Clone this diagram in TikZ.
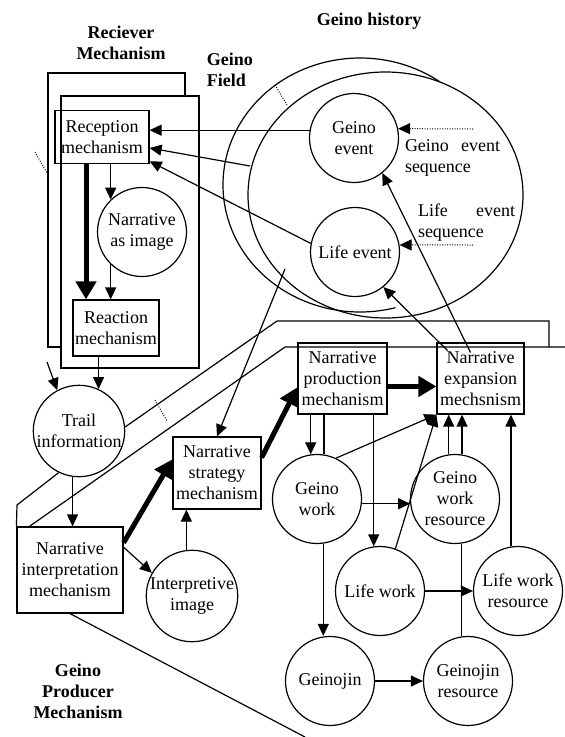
\documentclass[tikz,border=0pt]{standalone}
\usepackage{fontspec}
\setmainfont{Liberation Serif}
\usetikzlibrary{arrows.meta, calc}

\begin{document}
\begin{tikzpicture}[x=1pt, y=-1pt, line width=1.2pt,
    every node/.style={font=\fontsize{18}{21}\selectfont},
    mech/.style={draw, rectangle, align=center, inner sep=1pt},
    item/.style={draw, circle, align=center, inner sep=0pt, minimum size=89pt},
    heading/.style={font=\fontsize{18}{21}\selectfont\bfseries, align=center},
    seqtext/.style={align=left, inner sep=0pt},
    arr/.style={-{Triangle[length=12pt,width=11pt]}},
    bigarr/.style={line width=5pt, -{Triangle[length=18pt,width=20pt]}},
    seqarr/.style={line width=1pt, dash pattern=on 1pt off 1.5pt, -{Triangle[length=12pt,width=11pt]}},
    dottick/.style={line width=0.9pt, dash pattern=on 1pt off 1.5pt}]
    \useasboundingbox (0,0) rectangle (565,737);

    % Headings
    \node[heading] (hrec) at (121,43) {Reciever\\Mechanism};
    \node[heading, align=left, anchor=west] (hfield) at (203,70) {Geino\\Field};
    \node[heading] (hhist) at (369,21) {Geino history};
    \node[heading] (hprod) at (78,691) {Geino\\Producer\\Mechanism};

    % Receiver frames
    \draw (48,73) rectangle (185,347);
    \draw[fill=white] (61,96) rectangle (199,368);

    % Field and history
    \draw (385.5,195) ellipse [x radius=137.5, y radius=123];
    \draw (360,185) ++(-54.3:137 and 127)
        arc [start angle=-54.3, end angle=-285, x radius=137, y radius=127];

    % Receiver mechanism
    \node[mech, minimum width=94pt, minimum height=53pt] (rec) at (102,137) {Reception\\mechanism};
    \node[item] (nai) at (142,232) {Narrative\\as image};
    \node[mech, minimum width=86pt, minimum height=56pt] (react) at (116,328) {Reaction\\mechanism};
    \node[item] (trail) at (79,431) {Trail\\information};

    % Events
    \node[item] (gevent) at (354,138) {Geino\\event};
    \node[item] (levent) at (355,252) {Life event};
    \node[seqtext, text width=95pt] (gseqt) at (452.5,157.5) {Geino\hfill event\\sequence};
    \node[seqtext, text width=97pt] (lseqt) at (466.5,222.5) {Life\hfill event\\sequence};

    % Producer mechanism
    \node[mech, minimum width=106pt, minimum height=86pt] (interp) at (70,570) {Narrative\\interpretation\\mechanism};
    \node[item] (interpimg) at (192,596) {Interpretive\\image};
    \node[mech, minimum width=88pt, minimum height=72pt] (strat) at (217,473) {Narrative\\strategy\\mechanism};
    \node[mech, minimum width=89pt, minimum height=71pt] (prod) at (342.5,378.5) {Narrative\\production\\mechanism};
    \node[mech, minimum width=87pt, minimum height=71pt] (exp) at (480.5,378.5) {Narrative\\expansion\\mechsnism};

    % Works and resources
    \node[item] (gwork) at (317,499) {Geino\\work};
    \node[item] (gwres) at (455,499) {Geino\\work\\resource};
    \node[item] (lwork) at (380,591) {Life work};
    \node[item] (lwres) at (518,591) {Life work\\resource};
    \node[item] (gj) at (330,681) {Geinojin};
    \node[item] (gjres) at (468,681) {Geinojin\\resource};

    % Free ends
    \coordinate (histL) at (250,166);
    \coordinate (histS) at (285,269);
    \coordinate (trailin) at (47,362);
    \coordinate (gseq) at (473,129);
    \coordinate (lseq) at (473,245);

    % Field borders
    \draw (trail.5) -- (277,321) -- (549,321) -- (549,347);
    \draw ([xshift=13pt]interp.north west) -- (285,347) -- (565,347);
    \draw (trail.244) -- (17,505) -- (interp.north west);
    \draw (interp.south) -- (305,737);
    \draw[dottick] (35,152) -- (47,173);
    \draw[dottick] (275,85) -- (287,105);
    \draw[dottick] (155,400) -- (167,421);

    % Reception side
    \draw[arr] (gevent.170) -- (gevent.170 -| rec.east);
    \draw[arr] (histL) -- (rec.-13);
    \draw[arr] (levent.169) -- (rec.-27);
    \draw[arr] (rec.south -| nai.134) -- (nai.134);
    \draw[bigarr] ([xshift=-16pt]rec.south) -- ([xshift=-16pt]rec.south |- react.north);
    \draw[arr] (nai.226) -- (nai.226 |- react.north);
    \draw[arr] (react.south -| trail.65) -- (trail.65);
    \draw[arr] (trailin) -- (trail.118);
    \draw[arr] (trail.262) -- (trail.262 |- interp.north);

    % Production side
    \draw[arr] (interp.23) -- (interpimg.150);
    \draw[bigarr] (interp.27) -- (strat.163);
    \draw[arr] (interpimg.97) -- (interpimg.97 |- strat.south);
    \draw[arr] (histS) -- (strat.north);
    \draw[bigarr] (strat.19) -- (prod.191);
    \draw[bigarr] (prod.-10) -- (prod.-10 -| exp.west);
    \draw[arr] ([shift={(-33,-28)}]exp.center) -- (levent.-51);
    \draw[arr] ([shift={(-10,-26)}]exp.center) -- (gevent.-51);
    \draw[seqarr] (gseq) -- (gevent.12);
    \draw[seqarr] (lseq) -- (levent.9);

    % Works
    \draw[arr] (prod.south -| gwork.98) -- (gwork.98);
    \draw (gwork.81) -- (gwork.81 |- prod.south);
    \draw[arr] (prod.south -| lwork.98) -- (lwork.98);
    \draw[arr] (gwork.65) -- (exp.south west);
    \draw[arr] (lwork.70) -- (exp.south west);
    \draw[arr] (gwork.-6) -- (gwres.186);
    \draw[arr] (gwork.-82) -- (gwork.-82 |- gj.north);
    \draw[arr] (gj.east) -- (gjres.west);
    \draw[arr] (lwork.east) -- (lwres.west);
    \draw[arr] (gwres.98) -- (gwres.98 |- exp.south);
    \draw[arr] (gwres.81) -- (gwres.81 |- exp.south);
    \draw (gjres.98) -- (gjres.98 |- gwres.south);
    \draw[arr] (lwres.99) -- (lwres.99 |- exp.south);
\end{tikzpicture}
\end{document}
